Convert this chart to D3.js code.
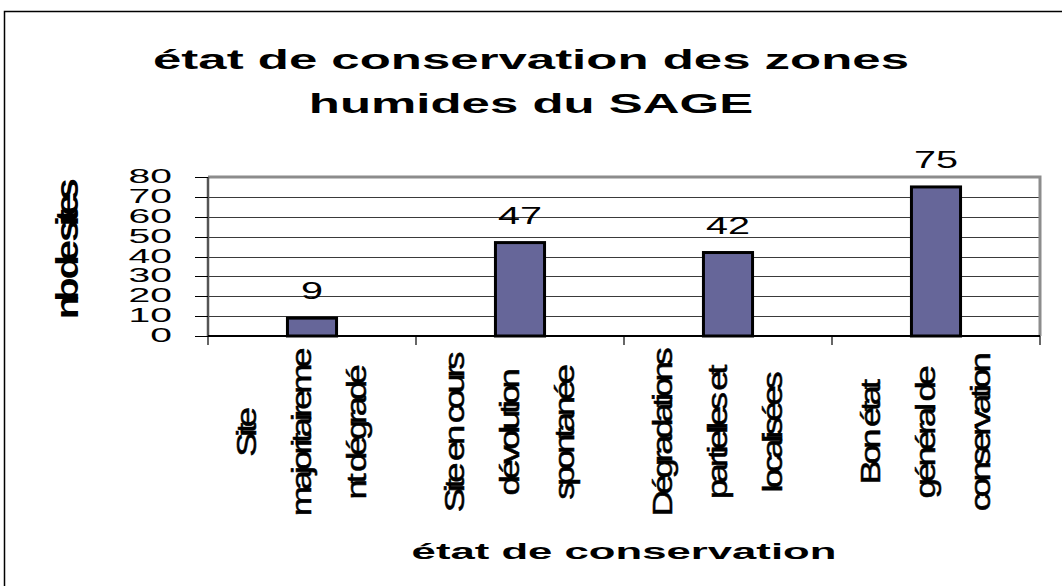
<!DOCTYPE html>
<html>
<head>
<meta charset="utf-8">
<script src="https://d3js.org/d3.v7.min.js"></script>
<style>
  body { margin: 0; background: #fff; }
  text { font-family: "Liberation Sans", Arial, sans-serif; fill: #000; }
</style>
</head>
<body>
<svg id="plot" width="1062" height="586"></svg>
<script>
// chart data
var categories = ["cat1", "cat2", "cat3", "cat4"];
var categoryLines = [
    ["Site", "majoritaireme", "nt dégradé"],
    ["Site en cours", "dévolution", "spontanée"],
    ["Dégradations", "partielles et", "localisées"],
    ["Bon état", "général de", "conservation"]
];
var values = [9, 47, 42, 75];
var yTicks = [0, 10, 20, 30, 40, 50, 60, 70, 80];
var titleLines = ["état de conservation des zones", "humides du SAGE"];
var xTitle = "état de conservation";
var yTitle = "nb de sites";

var svg = d3.select("#plot"),
    margin = {top: 177, right: 22, bottom: 250, left: 208},
    width = +svg.attr("width") - margin.left - margin.right,
    height = +svg.attr("height") - margin.top - margin.bottom;

var x = d3.scaleBand().domain(categories).range([0, width]).paddingInner(0.764).paddingOuter(0.382),
    y = d3.scaleLinear().domain([0, 80]).range([height, 0]);

// outer frame of the chart object
svg.append("rect")
    .attr("x", 4.5).attr("y", 11.5)
    .attr("width", 1100).attr("height", 700)
    .attr("fill", "none")
    .attr("stroke", "#000")
    .attr("stroke-width", 1.5);

var g = svg.append("g")
    .attr("transform", "translate(" + margin.left + "," + margin.top + ")");

// gridlines
g.selectAll(".grid")
    .data(yTicks.filter(function(d){ return d > 0 && d < 80; }))
    .enter().append("line")
    .attr("x1", 0).attr("x2", width)
    .attr("y1", function(d){ return Math.round(y(d)) + 0.5; })
    .attr("y2", function(d){ return Math.round(y(d)) + 0.5; })
    .attr("stroke", "#3a3a3a")
    .attr("stroke-width", 1);

// plot area border top + right (gray)
g.append("path")
    .attr("d", "M0," + y(80) + "H" + width + "V" + y(0))
    .attr("fill", "none")
    .attr("stroke", "#8c8c8c")
    .attr("stroke-width", 3);

// bars
g.selectAll(".bar")
    .data(values)
    .enter().append("rect")
    .attr("x", function(d, i){ return x(categories[i]); })
    .attr("y", function(d){ return y(d); })
    .attr("width", x.bandwidth())
    .attr("height", function(d){ return y(0) - y(d); })
    .attr("fill", "#666699")
    .attr("stroke", "#000")
    .attr("stroke-width", 3);

// y axis line and ticks
g.append("line")
    .attr("x1", 0).attr("x2", 0)
    .attr("y1", y(80)).attr("y2", y(0))
    .attr("stroke", "#555").attr("stroke-width", 2.5);

g.selectAll(".ytick")
    .data(yTicks)
    .enter().append("line")
    .attr("x1", -13).attr("x2", 0)
    .attr("y1", function(d){ return Math.round(y(d)) + 0.5; })
    .attr("y2", function(d){ return Math.round(y(d)) + 0.5; })
    .attr("stroke", "#000").attr("stroke-width", 1);

g.selectAll(".ylab")
    .data(yTicks)
    .enter().append("text")
    .attr("transform", function(d){ return "translate(-36," + (y(d) + 6) + ") scale(2,1)"; })
    .attr("text-anchor", "end")
    .style("font-size", "19.5px")
    .text(function(d){ return d; });

// x axis line and category ticks
g.append("line")
    .attr("x1", 0).attr("x2", width)
    .attr("y1", y(0)).attr("y2", y(0))
    .attr("stroke", "#000").attr("stroke-width", 2);

var bounds = [0].concat(categories.map(function(c){ return x(c) + x.bandwidth() / 2 + x.step() / 2; }));
g.selectAll(".xtick")
    .data(bounds)
    .enter().append("line")
    .attr("x1", function(d){ return d; }).attr("x2", function(d){ return d; })
    .attr("y1", y(0)).attr("y2", y(0) + 9)
    .attr("stroke", "#000").attr("stroke-width", 1.2);

// value labels on top of the bars
g.selectAll(".vlab")
    .data(values)
    .enter().append("text")
    .attr("transform", function(d, i){
        return "translate(" + (x(categories[i]) + x.bandwidth() / 2) + "," + (y(d) - 19) + ") scale(1.65,1)";
    })
    .attr("text-anchor", "middle")
    .style("font-size", "24px")
    .text(function(d){ return d; });

// category labels, rotated and squeezed like the original
var lineOffsets = [-66, -11, 44];
categories.forEach(function(c, i){
    var cx = x(c) + x.bandwidth() / 2;
    categoryLines[i].forEach(function(t, j){
        g.append("text")
            .attr("transform", "translate(" + (cx + lineOffsets[j]) + "," + (434 - margin.top) + ") rotate(-90) scale(1.35,1.05)")
            .attr("text-anchor", "middle")
            .attr("dy", "0.36em")
            .style("font-size", "27px")
            .style("letter-spacing", "-3.2px")
            .style("stroke", "#000")
            .style("stroke-width", "0.5px")
            .text(t);
    });
});

// titles
titleLines.forEach(function(t, i){
    svg.append("text")
        .attr("transform", "translate(531," + (69 + i * 44) + ") scale(1.82,1)")
        .attr("text-anchor", "middle")
        .style("font-size", "28px")
        .style("font-weight", "bold")
        .text(t);
});

svg.append("text")
    .attr("transform", "translate(" + (margin.left + width / 2) + ",559) scale(1.9,1)")
    .attr("text-anchor", "middle")
    .style("font-size", "23px")
    .style("font-weight", "bold")
    .text(xTitle);

svg.append("text")
    .attr("transform", "translate(78,252) rotate(-90) scale(1.25,1)")
    .attr("text-anchor", "middle")
    .style("font-size", "32px")
    .style("font-weight", "bold")
    .style("letter-spacing", "-5.4px")
    .text(yTitle);
</script>
</body>
</html>
